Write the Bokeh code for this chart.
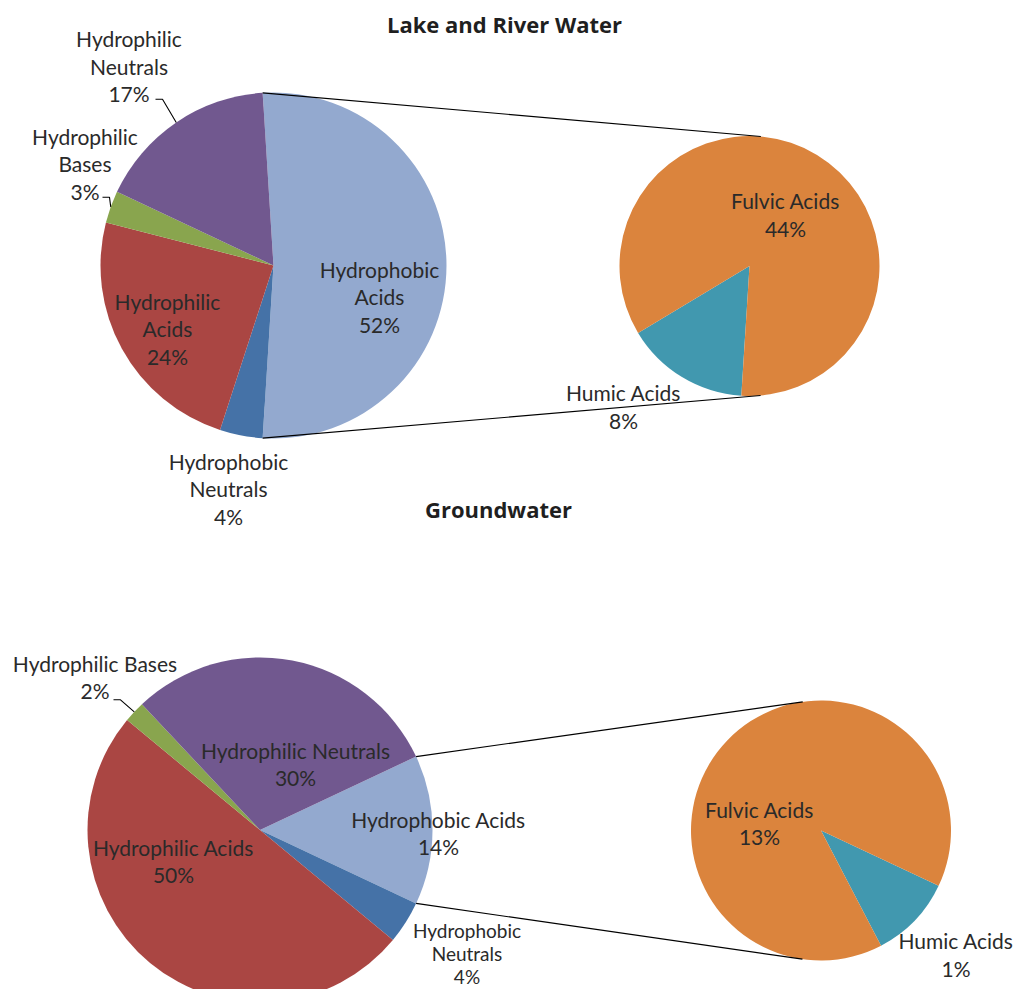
import math
from bokeh.plotting import figure
from bokeh.models import Range1d
from bokeh.core.properties import value
from bokeh.embed import file_html
from bokeh.resources import INLINE

# ---------------- data ----------------
main_categories = ["Hydrophobic Acids", "Hydrophobic Neutrals", "Hydrophilic Acids",
                   "Hydrophilic Bases", "Hydrophilic Neutrals"]
sub_categories = ["Humic Acids", "Fulvic Acids"]

lake_title = "Lake and River Water"
lake_values = [52, 4, 24, 3, 17]
lake_sub_values = [8, 44]

ground_title = "Groundwater"
ground_values = [14, 4, 50, 2, 30]
ground_sub_values = [1.45, 12.55]

# ---------------- style / layout ----------------
COLORS = {
    "Hydrophobic Acids": "#93A9CF",
    "Hydrophobic Neutrals": "#4572A7",
    "Hydrophilic Acids": "#AA4643",
    "Hydrophilic Bases": "#89A54E",
    "Hydrophilic Neutrals": "#71588F",
    "Humic Acids": "#4198AF",
    "Fulvic Acids": "#DB843D",
}
FONT = "Lato"
TITLE_FONT = "Open Sans"
TEXT_COLOR = "#2a2a2a"
FONT_SIZE = "21px"
TIGHT_FONT_SIZE = "19px"

W, H = 1013, 989
p = figure(width=W, height=H, x_range=Range1d(0, W), y_range=Range1d(-H, 0),
           output_backend="svg", toolbar_location=None, x_axis_location=None,
           y_axis_location=None, min_border=0, background_fill_color="white",
           border_fill_color="white")
p.grid.visible = False
p.outline_line_color = None

charts = [
    dict(title=lake_title, title_pos=(504, 23), values=lake_values, sub_values=lake_sub_values,
         center=(273, 265), r=173, sub_center=(749, 265.5), sub_r=130,
         # label offsets from pie centre (x right, y up), wrap words?, tight line spacing?
         label_off=[(106, -31), (-45, -223), (-106, -63), (-188.5, 102), (-144.5, 199.5)],
         label_wrap=[True, True, True, True, True],
         label_tight=[False, False, False, False, False],
         leaders=[None, None, None, (-164, 68.3), (-111, 166.3)],
         sub_label_off=[(-126, -140.5), (36, 51.5)],
         sub_label_wrap=[False, False]),
    dict(title=ground_title, title_pos=(498, 508), values=ground_values, sub_values=ground_sub_values,
         center=(259.5, 829.5), r=172.5, sub_center=(820.5, 830), sub_r=130,
         label_off=[(178.5, -3), (207, -123), (-86.5, -31), (-165, 153), (35.5, 66)],
         label_wrap=[False, True, False, False, False],
         label_tight=[False, True, False, False, False],
         leaders=[None, None, None, (-139.5, 130.2), None],
         sub_label_off=[(135, -124), (-61.5, 7.5)],
         sub_label_wrap=[False, False]),
]


def pct(v):
    return f"{v:.0f}%"


def label_text(name, v, wrap):
    return (name.replace(" ", "\n") if wrap else name) + "\n" + pct(v)


for c in charts:
    cx, cy = c["center"][0], -c["center"][1]
    r = c["r"]
    total = sum(c["values"])
    h = c["values"][0] / total * math.pi  # half span of split slice

    # main pie: split slice centred on 0, others clockwise from -h
    starts, ends, cols, mids = [], [], [], []
    starts.append(-h); ends.append(h); cols.append(COLORS[main_categories[0]]); mids.append(0.0)
    a = -h
    for name, v in zip(main_categories[1:], c["values"][1:]):
        span = v / total * 2 * math.pi
        starts.append(a - span); ends.append(a); cols.append(COLORS[name]); mids.append(a - span / 2)
        a -= span
    p.wedge(x=[cx] * len(starts), y=[cy] * len(starts), radius=r, start_angle=starts,
            end_angle=ends, fill_color=cols, line_color=None)

    # secondary pie: clockwise from -h
    sx, sy = c["sub_center"][0], -c["sub_center"][1]
    sr = c["sub_r"]
    stot = sum(c["sub_values"])
    s_starts, s_ends, s_cols = [], [], []
    a = -h
    for name, v in zip(sub_categories, c["sub_values"]):
        span = v / stot * 2 * math.pi
        s_starts.append(a - span); s_ends.append(a); s_cols.append(COLORS[name])
        a -= span
    p.wedge(x=[sx] * 2, y=[sy] * 2, radius=sr, start_angle=s_starts, end_angle=s_ends,
            fill_color=s_cols, line_color=None)

    # connector lines: tangents from split-slice edges to secondary circle
    xs0, ys0, xs1, ys1 = [], [], [], []
    for sign in (1, -1):
        px_, py_ = cx + r * math.cos(sign * h), cy + r * math.sin(sign * h)
        vx, vy = px_ - sx, py_ - sy
        d = math.hypot(vx, vy)
        phi = math.atan2(vy, vx)
        alpha = math.acos(sr / d)
        t = phi - sign * alpha
        xs0.append(px_); ys0.append(py_)
        xs1.append(sx + sr * math.cos(t)); ys1.append(sy + sr * math.sin(t))
    p.segment(x0=xs0, y0=ys0, x1=xs1, y1=ys1, line_color="black", line_width=1.2)

    # leader lines
    for mid, ld in zip(mids, c["leaders"]):
        if ld is None:
            continue
        ex, ey = cx + ld[0], cy + ld[1]
        p.line(x=[cx + r * math.cos(mid), ex, ex - 7], y=[cy + r * math.sin(mid), ey, ey],
               line_color="black", line_width=1.1)

    # labels
    groups = {False: ([], [], []), True: ([], [], [])}
    for name, v, off, wrap, tight in zip(main_categories, c["values"], c["label_off"],
                                         c["label_wrap"], c["label_tight"]):
        g = groups[tight]
        g[0].append(cx + off[0]); g[1].append(cy + off[1]); g[2].append(label_text(name, v, wrap))
    for name, v, off, wrap in zip(sub_categories, c["sub_values"], c["sub_label_off"], c["sub_label_wrap"]):
        g = groups[False]
        g[0].append(sx + off[0]); g[1].append(sy + off[1]); g[2].append(label_text(name, v, wrap))
    for tight, (lx, ly, lt) in groups.items():
        if not lx:
            continue
        p.text(x=lx, y=ly, text=lt, text_font=value(FONT),
               text_font_size=TIGHT_FONT_SIZE if tight else FONT_SIZE,
               text_align="center", text_baseline="middle", text_color=TEXT_COLOR,
               text_line_height=1.0 if tight else 1.1)

    # title
    p.text(x=[c["title_pos"][0]], y=[-c["title_pos"][1]], text=[c["title"]],
           text_font=value(TITLE_FONT), text_font_size="22px", text_font_style="bold",
           text_align="center", text_baseline="middle", text_color="#1f1f1f")

open("out.html", "w").write(file_html(p, INLINE))
